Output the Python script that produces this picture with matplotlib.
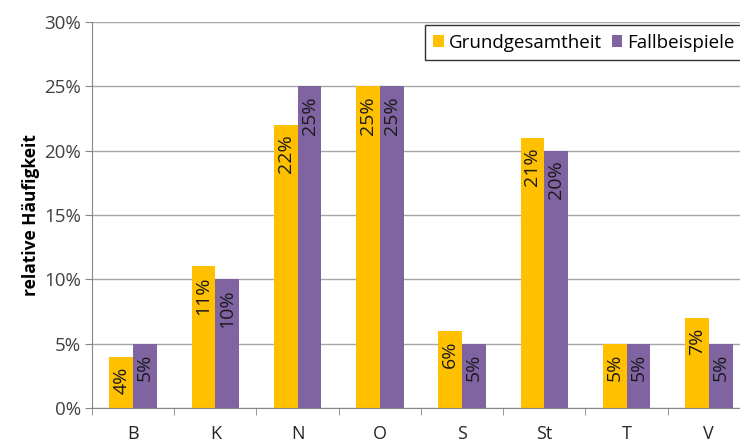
import numpy as np
import matplotlib
matplotlib.use("Agg")
import matplotlib.pyplot as plt
from matplotlib.ticker import FuncFormatter, MultipleLocator

categories = ["B", "K", "N", "O", "S", "St", "T", "V"]
grund = [4, 11, 22, 25, 6, 21, 5, 7]
fall = [5, 10, 25, 25, 5, 20, 5, 5]
series_names = ["Grundgesamtheit", "Fallbeispiele"]
colors = ["#FFC000", "#8064A2"]

plt.rcParams["font.family"] = ["Open Sans", "DejaVu Sans"]

fig = plt.figure(figsize=(7.4, 4.45), dpi=100)
ax = fig.add_axes([0.1243, 0.0831, 0.8892, 0.8675])

x = np.arange(len(categories))
w = 0.29
for i, (vals, col, name) in enumerate(zip([grund, fall], colors, series_names)):
    ax.bar(x + (i - 0.5) * w, vals, width=w, color=col, label=name, zorder=2)
    for xi, v in zip(x + (i - 0.5) * w, vals):
        ax.annotate(f"{v}%", (xi, v), xytext=(0, -7), textcoords="offset points",
                    rotation=90, ha="center", va="top", fontsize=14,
                    color="#1a1a1a", zorder=3)

ax.set_xlim(-0.5, len(categories) - 0.5)
ax.set_ylim(0, 30)
ax.yaxis.set_major_locator(MultipleLocator(5))
ax.yaxis.set_major_formatter(FuncFormatter(lambda v, p: f"{int(v)}%"))
ax.grid(axis="y", color="#a6a6a6", linewidth=1, zorder=0)

ax.set_xticks(x)
ax.set_xticklabels(categories)
ax.set_xticks(np.arange(len(categories) + 1) - 0.5, minor=True)
ax.tick_params(axis="x", which="major", length=0, pad=12, labelsize=13, labelcolor="#262626")
ax.tick_params(axis="x", which="minor", length=5, color="#868686")
ax.tick_params(axis="y", length=5, color="#868686", labelsize=13.5, labelcolor="#404040", pad=3)

for s in ["top", "right"]:
    ax.spines[s].set_visible(False)
for s in ["left", "bottom"]:
    ax.spines[s].set_color("#868686")

ax.set_ylabel("relative Häufigkeit", fontsize=12.5, fontweight="bold", labelpad=3)

# legend box runs past the right edge like in the original
leg = ax.legend(loc="upper right", bbox_to_anchor=(0.99, 0.992), ncol=2, frameon=True,
                fancybox=False, edgecolor="black", fontsize=13.5, handlelength=0.55,
                handleheight=0.55, handletextpad=0.3, columnspacing=0.5,
                borderpad=0.45, borderaxespad=0)
leg.get_frame().set_linewidth(1.0)

fig.savefig("out.png", dpi=100)
